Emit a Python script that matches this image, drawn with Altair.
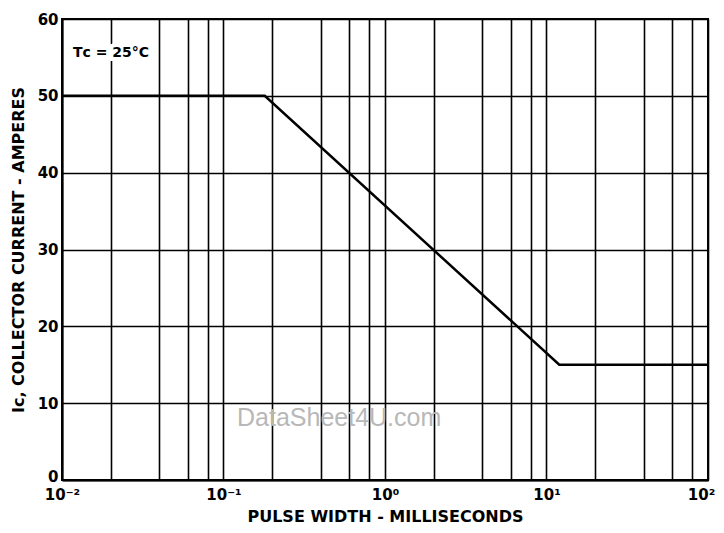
import altair as alt
import pandas as pd

# Curve (pulse width in ms, collector current in A)
pulse_ms = [0.01, 0.18, 12.0, 100.0]
current_a = [50, 50, 15, 15]

# Grid positions on the log axis (1, 2, 4, 6, 8 per decade)
grid_mult = [1, 2, 4, 6, 8]
decades = [0.01, 0.1, 1, 10]
x_grid = [round(d * m, 6) for d in decades for m in grid_mult] + [100]

# Tick labels
label_vals = [0.01, 0.1, 1, 10, 100]
label_text = ["10\u207b\u00b2", "10\u207b\u00b9", "10\u2070", "10\u00b9", "10\u00b2"]
y_ticks = [0, 10, 20, 30, 40, 50, 60]

note_text = ["T\u1d04 = 25\u00b0C"]
note_x = [0.0117]
note_y = [55.6]

wm_text = ["DataSheet4U.com"]
wm_x = [0.52]
wm_y = [8.1]

label_expr = " : ".join(
    f"abs(datum.value - {v}) < {v * 1e-3} ? '{t}'" for v, t in zip(label_vals, label_text)
) + " : ''"

FONT = "DejaVu Sans"

xscale = alt.Scale(type="log", domain=[0.01, 100], nice=False)
yscale = alt.Scale(domain=[0, 60], nice=False)

curve = pd.DataFrame({"t": pulse_ms, "i": current_a})

line = alt.Chart(curve).mark_line(color="black", strokeWidth=2.5).encode(
    x=alt.X("t:Q", scale=xscale,
            axis=alt.Axis(values=x_grid, labelExpr=label_expr, title="PULSE WIDTH - MILLISECONDS",
                          grid=True, ticks=False, labelPadding=7, titlePadding=6,
                          labelFlush=False,
                          labelOffset=alt.ExprRef("datum.value >= 99 ? -7 : 0"))),
    y=alt.Y("i:Q", scale=yscale,
            axis=alt.Axis(values=y_ticks, title="I\u1d04, COLLECTOR CURRENT - AMPERES",
                          grid=True, ticks=False, labelPadding=4, titlePadding=11,
                          labelBaseline="alphabetic",
                          labelOffset=alt.ExprRef("datum.value == 0 ? 1 : 5"))),
)

note_df = pd.DataFrame({"x": note_x, "y": note_y, "txt": note_text})
note_bg = alt.Chart(note_df).mark_text(
    align="left", baseline="middle", font=FONT, fontSize=14, fontWeight="bold",
    color="white", stroke="white", strokeWidth=8
).encode(x=alt.X("x:Q", scale=xscale), y=alt.Y("y:Q", scale=yscale), text="txt:N")
note = alt.Chart(note_df).mark_text(
    align="left", baseline="middle", font=FONT, fontSize=14, fontWeight="bold", color="black"
).encode(x=alt.X("x:Q", scale=xscale), y=alt.Y("y:Q", scale=yscale), text="txt:N")

wm_df = pd.DataFrame({"x": wm_x, "y": wm_y, "txt": wm_text})
wm = alt.Chart(wm_df).mark_text(
    align="center", baseline="middle", font="Liberation Sans", fontSize=25, color="#b8b8b8"
).encode(x=alt.X("x:Q", scale=xscale), y=alt.Y("y:Q", scale=yscale), text="txt:N")

chart = alt.layer(line, note_bg, note, wm).properties(
    width=646, height=461,
    padding={"left": 54, "top": 11, "right": 8, "bottom": 45},
    autosize=alt.AutoSizeParams(type="none"),
).configure_axis(
    gridColor="black", gridWidth=1.6, gridOpacity=1,
    domainColor="black", domainWidth=2,
    labelFont=FONT, labelFontSize=15, labelFontWeight="bold", labelColor="black",
    titleFont=FONT, titleFontSize=16, titleFontWeight="bold", titleColor="black",
).configure_view(stroke="black", strokeWidth=2)

chart.save("out.html", embed_options={"renderer": "svg", "actions": False})
